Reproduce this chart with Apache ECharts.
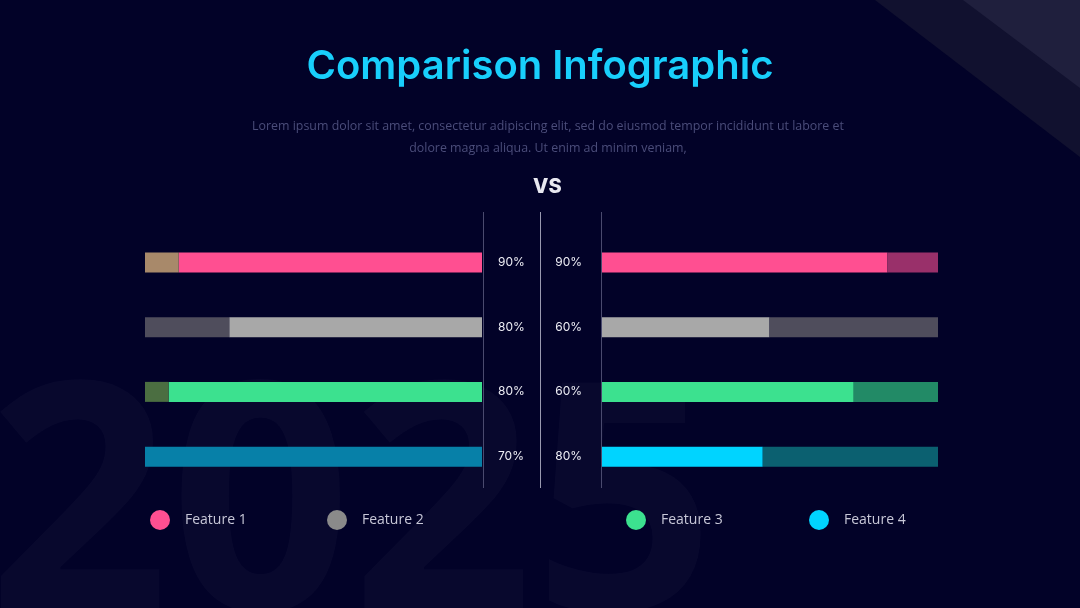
<!DOCTYPE html>
<html>
<head>
<meta charset="utf-8">
<script src="https://cdn.jsdelivr.net/npm/echarts@6/dist/echarts.min.js"></script>
<style>
html, body { margin: 0; padding: 0; background: #020228; }
#main { width: 1080px; height: 608px; }
</style>
</head>
<body>
<div id="main"></div>
<script>
// rows / legend
var features = ['Feature 1', 'Feature 2', 'Feature 3', 'Feature 4'];
var legendColors = ['#ff4f91', '#8a8a8a', '#3ce18f', '#00d4ff'];

// left side (bars grow from the middle to the left)
var leftValues = [90, 75, 93, 100];
var leftLabels = ['90%', '80%', '80%', '70%'];
var leftColors = ['#ff4f91', '#a8a8a8', '#3ce18f', '#0780a8'];
var leftRestColors = ['#a8896a', '#4f4d5c', '#4b6e41', '#0780a8'];

// right side
var rightValues = [85, 50, 75, 48];
var rightLabels = ['90%', '60%', '60%', '80%'];
var rightColors = ['#ff4f91', '#a8a8a8', '#3ce18f', '#00d4ff'];
var rightRestColors = ['#99306a', '#4f4d5c', '#228a66', '#0b6070'];

var myChart = echarts.init(document.getElementById('main'));

function sideSeries(side, idx, values, colors, restColors) {
    var list = [];
    features.forEach(function (name, i) {
        list.push({
            name: name,
            type: 'bar',
            xAxisIndex: idx,
            yAxisIndex: idx,
            stack: side,
            barWidth: 20,
            silent: true,
            itemStyle: { color: colors[i] },
            data: values.map(function (v, j) { return j === i ? v : '-'; })
        });
    });
    list.push({
        name: side + ' rest',
        type: 'bar',
        xAxisIndex: idx,
        yAxisIndex: idx,
        stack: side,
        barWidth: 20,
        silent: true,
        data: values.map(function (v, j) {
            return { value: 100 - v, itemStyle: { color: restColors[j] } };
        })
    });
    return list;
}

var legendX = [160, 337, 636, 819];

var graphics = [
    { type: 'polygon', z: -2, shape: { points: [[875, 0], [1080, 0], [1080, 157]] }, style: { fill: '#11112f' } },
    { type: 'polygon', z: -1, shape: { points: [[963, 0], [1080, 0], [1080, 88]] }, style: { fill: '#1f1f3d' } },
    // big faded year in the background
    {
        type: 'text', z: -3, x: -12, y: 360,
        style: {
            text: '2025', fill: 'rgba(255,255,255,0.028)',
            font: 'bold 318px "Open Sans"', verticalAlign: 'top'
        }
    },
    { type: 'line', z: 5, shape: { x1: 483.5, y1: 212, x2: 483.5, y2: 488 }, style: { stroke: '#4a4a6e', lineWidth: 1 } },
    { type: 'line', z: 5, shape: { x1: 540.5, y1: 212, x2: 540.5, y2: 488 }, style: { stroke: '#9a9ab0', lineWidth: 1 } },
    { type: 'line', z: 5, shape: { x1: 601.5, y1: 212, x2: 601.5, y2: 488 }, style: { stroke: '#4a4a6e', lineWidth: 1 } }
];

var option = {
    backgroundColor: '#020228',
    animation: false,
    title: [
        {
            text: 'Comparison Infographic',
            left: 'center',
            top: 42,
            textStyle: { color: '#18cffc', fontSize: 40, fontWeight: 600, fontFamily: 'Inter' }
        },
        {
            text: 'Lorem ipsum dolor sit amet, consectetur adipiscing elit, sed do eiusmod tempor incididunt ut labore et\ndolore magna aliqua. Ut enim ad minim veniam,',
            left: 543,
            textAlign: 'center',
            top: 110,
            textStyle: { color: '#4b4d7a', fontSize: 12.4, fontWeight: 'normal', lineHeight: 22, fontFamily: 'Open Sans' }
        },
        {
            text: 'VS',
            left: 528,
            top: 172,
            textStyle: { color: '#e8e8f0', fontSize: 20, fontWeight: 800, fontFamily: 'Inter' }
        }
    ],
    legend: features.map(function (name, i) {
        return {
            data: [{ name: name, itemStyle: { color: legendColors[i] } }],
            left: legendX[i] - 15,
            top: 505,
            icon: 'circle',
            itemWidth: 40,
            itemHeight: 20,
            selectedMode: false,
            textStyle: { color: '#c8c8d8', fontSize: 14, fontFamily: 'Open Sans' }
        };
    }),
    grid: [
        { left: 145, width: 337, top: 230, height: 259 },
        { left: 601, width: 337, top: 230, height: 259 }
    ],
    xAxis: [
        { type: 'value', gridIndex: 0, min: 0, max: 100, inverse: true, show: false },
        { type: 'value', gridIndex: 1, min: 0, max: 100, show: false }
    ],
    yAxis: [
        {
            type: 'category', gridIndex: 0, data: features, inverse: true, position: 'right',
            axisLine: { show: false }, axisTick: { show: false },
            axisLabel: {
                margin: 16, color: '#eeeef5', fontSize: 12, fontFamily: 'Inter',
                formatter: function (v, i) { return leftLabels[i]; }
            }
        },
        {
            type: 'category', gridIndex: 1, data: features, inverse: true, position: 'left',
            axisLine: { show: false }, axisTick: { show: false },
            axisLabel: {
                margin: 19, color: '#eeeef5', fontSize: 12, fontFamily: 'Inter',
                formatter: function (v, i) { return rightLabels[i]; }
            }
        }
    ],
    graphic: { elements: graphics },
    series: sideSeries('left', 0, leftValues, leftColors, leftRestColors)
        .concat(sideSeries('right', 1, rightValues, rightColors, rightRestColors))
};

myChart.setOption(option);
</script>
</body>
</html>
